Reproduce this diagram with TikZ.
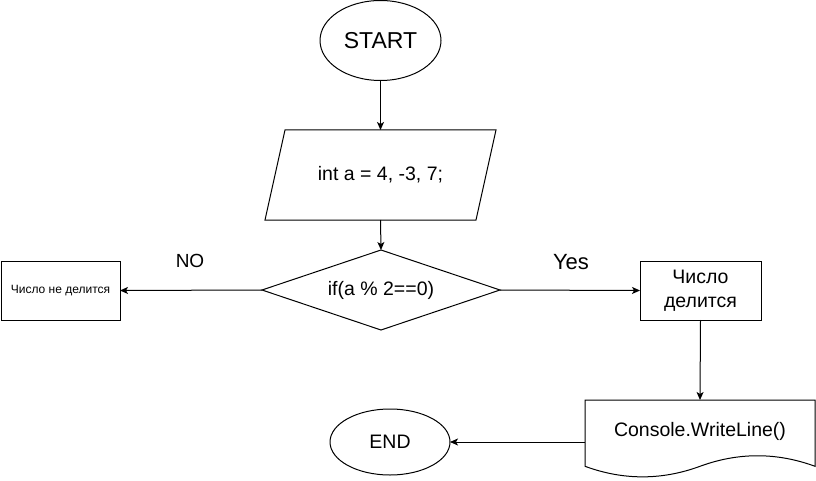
\documentclass[tikz,border=0pt]{standalone}
\usepackage{fontspec}
\setmainfont{Liberation Sans}
\usetikzlibrary{shapes.geometric,arrows.meta}
\begin{document}
\begin{tikzpicture}[x=1pt,y=-1pt,
  every node/.style={inner sep=0pt,outer sep=0pt},
  lw/.style={line width=1pt},
  arr/.style={lw,-{Stealth[length=8pt,width=7pt,inset=2pt]}},
  term/.style={ellipse,draw,lw},
  procbox/.style={rectangle,draw,lw},
  mainfont/.style={font=\fontsize{19.5}{24}\selectfont}
]
\useasboundingbox (0,0) rectangle (816,481);
% nodes
\node[term,minimum width=121pt,minimum height=80pt,font=\fontsize{23}{27}\selectfont] (start) at (380.5,40.5) {START};
\node[rectangle,minimum width=211pt,minimum height=90pt,mainfont] (para) at (380.5,175) {int a = 4, -3, 7;};
\draw[lw] ([xshift=10pt]para.north west) -- ([xshift=10pt]para.north east) -- ([xshift=-10pt]para.south east) -- ([xshift=-10pt]para.south west) -- cycle;
\node[diamond,draw,lw,aspect=2.975,minimum width=238pt,minimum height=80pt,mainfont] (cond) at (381,290) {if(a \% 2==0)};
\node[procbox,minimum width=119pt,minimum height=59pt,font=\fontsize{12}{14}\selectfont] (nobox) at (60.5,290.5) {Число не делится};
\node[procbox,minimum width=121pt,minimum height=59pt,align=center,mainfont] (yesbox) at (700.5,290.5) {Число\\делится};
\node[font=\fontsize{19}{22}\selectfont] (nolbl) at (190,261) {NO};
\node[font=\fontsize{22}{26}\selectfont] (yeslbl) at (571,262) {Yes};
\node[rectangle,minimum width=230pt,minimum height=78pt] (doc) at (700,439) {};
\node[mainfont] (doctext) at (700,431) {Console.WriteLine()};
\draw[lw] (585,400) -- (815,400) -- (815,466.3)
  .. controls (776.67,452.23) and (738.33,452.23) .. (700,466.3)
  .. controls (661.67,480.37) and (623.33,480.37) .. (585,466.3) -- cycle;
\node[term,minimum width=120pt,minimum height=66pt,mainfont] (end) at (390,442) {END};
% connectors
\draw[arr] (start.south) -- (para.north);
\draw[arr] (para.south) -- (cond.north);
\draw[arr] (cond.west) -- (nobox.east);
\draw[arr] (cond.east) -- (yesbox.west);
\draw[arr] (yesbox.south) -- (doc.north);
\draw[arr] (doc.west |- end.east) -- (end.east);
\end{tikzpicture}
\end{document}
